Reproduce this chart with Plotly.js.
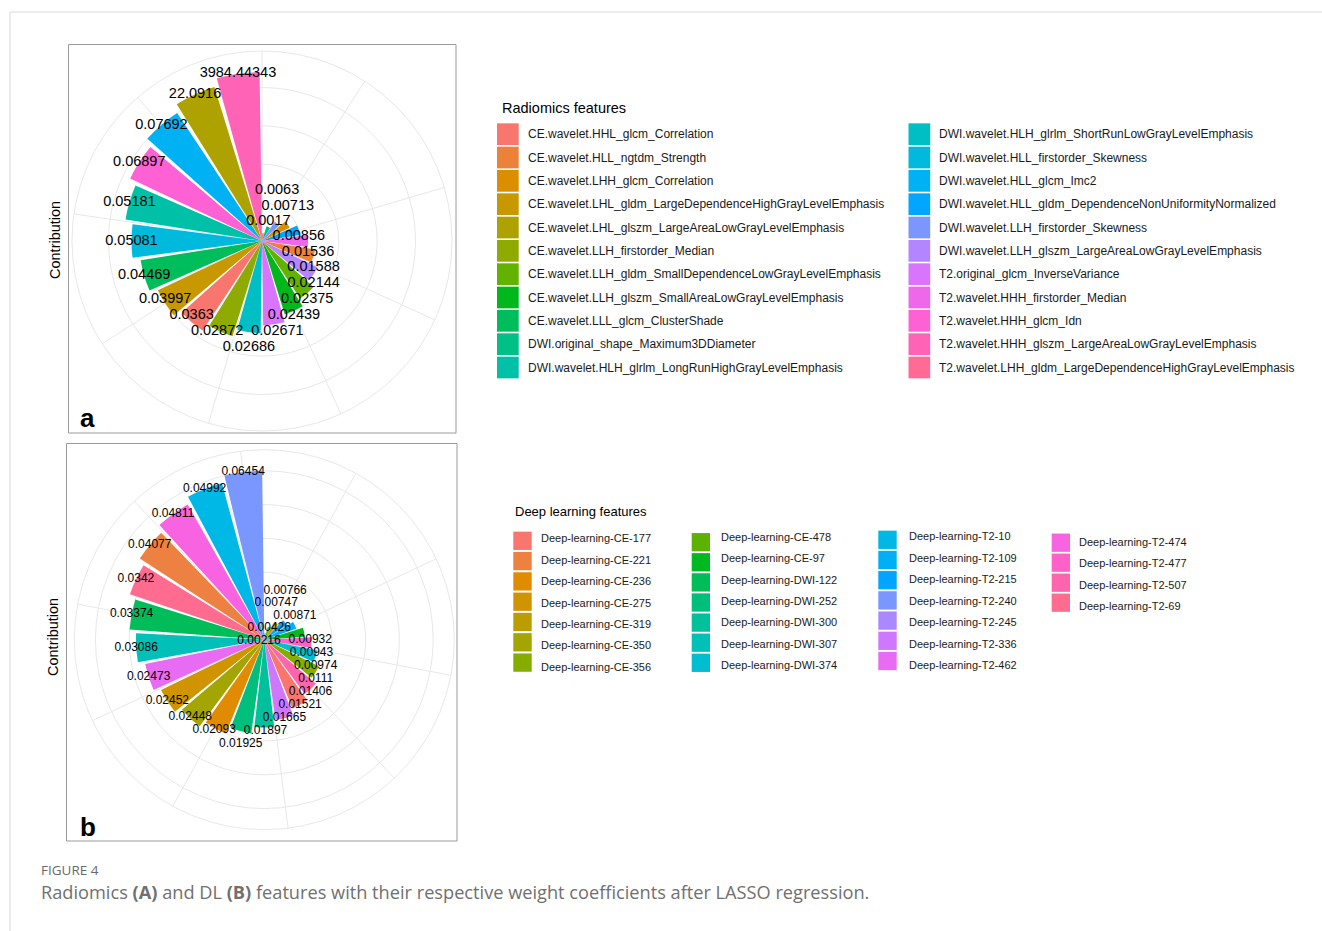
<!DOCTYPE html>
<html>
<head>
<meta charset="utf-8">
<script src="https://cdn.plot.ly/plotly-3.0.1.min.js"></script>
<style>
html,body{margin:0;padding:0;background:#ffffff;}
#chart{width:1322px;height:931px;}
</style>
</head>
<body>
<div id="chart"></div>
<script>
// ---------------- DATA ----------------
// Panel a: radiomics features (legend order)
const radFeatures = [
  "CE.wavelet.HHL_glcm_Correlation",
  "CE.wavelet.HLL_ngtdm_Strength",
  "CE.wavelet.LHH_glcm_Correlation",
  "CE.wavelet.LHL_gldm_LargeDependenceHighGrayLevelEmphasis",
  "CE.wavelet.LHL_glszm_LargeAreaLowGrayLevelEmphasis",
  "CE.wavelet.LLH_firstorder_Median",
  "CE.wavelet.LLH_gldm_SmallDependenceLowGrayLevelEmphasis",
  "CE.wavelet.LLH_glszm_SmallAreaLowGrayLevelEmphasis",
  "CE.wavelet.LLL_glcm_ClusterShade",
  "DWI.original_shape_Maximum3DDiameter",
  "DWI.wavelet.HLH_glrlm_LongRunHighGrayLevelEmphasis",
  "DWI.wavelet.HLH_glrlm_ShortRunLowGrayLevelEmphasis",
  "DWI.wavelet.HLL_firstorder_Skewness",
  "DWI.wavelet.HLL_glcm_Imc2",
  "DWI.wavelet.HLL_gldm_DependenceNonUniformityNormalized",
  "DWI.wavelet.LLH_firstorder_Skewness",
  "DWI.wavelet.LLH_glszm_LargeAreaLowGrayLevelEmphasis",
  "T2.original_glcm_InverseVariance",
  "T2.wavelet.HHH_firstorder_Median",
  "T2.wavelet.HHH_glcm_Idn",
  "T2.wavelet.HHH_glszm_LargeAreaLowGrayLevelEmphasis",
  "T2.wavelet.LHH_gldm_LargeDependenceHighGrayLevelEmphasis"
];
// bars clockwise from 12 o'clock: feature index, bar height (rank), printed value
const radBarFeature = [21, 9, 15, 2, 14, 18, 1, 16, 6, 7, 17, 11, 5, 0, 3, 8, 12, 10, 19, 13, 4, 20];
const radBarHeight  = [1, 2, 3, 4, 5, 6, 7, 8, 9, 10, 11, 12, 13, 14, 15, 16, 17, 18, 19, 20, 21, 22];
const radBarValue   = [null, 0.0017, 0.0063, 0.00713, 0.00856, 0.01536, 0.01588, 0.02144, 0.02375,
                       0.02439, 0.02671, 0.02686, 0.02872, 0.0363, 0.03997, 0.04469, 0.05081,
                       0.05181, 0.06897, 0.07692, 22.0916, 3984.44343];

// Panel b: deep learning features (legend order)
const dlFeatures = [
  "Deep-learning-CE-177", "Deep-learning-CE-221", "Deep-learning-CE-236", "Deep-learning-CE-275",
  "Deep-learning-CE-319", "Deep-learning-CE-350", "Deep-learning-CE-356", "Deep-learning-CE-478",
  "Deep-learning-CE-97", "Deep-learning-DWI-122", "Deep-learning-DWI-252", "Deep-learning-DWI-300",
  "Deep-learning-DWI-307", "Deep-learning-DWI-374", "Deep-learning-T2-10", "Deep-learning-T2-109",
  "Deep-learning-T2-215", "Deep-learning-T2-240", "Deep-learning-T2-245", "Deep-learning-T2-336",
  "Deep-learning-T2-462", "Deep-learning-T2-474", "Deep-learning-T2-477", "Deep-learning-T2-507",
  "Deep-learning-T2-69"
];
const dlBarFeature = [18, 7, 4, 16, 15, 8, 22, 13, 6, 23, 0, 19, 11, 10, 2, 5, 3, 20, 12, 9, 24, 1, 21, 14, 17];
const dlBarHeight  = [1, 2, 3, 4, 5, 6, 7, 8, 9, 10, 11, 12, 13, 14, 15, 16, 17, 18, 19, 20, 21, 22, 23, 24, 25];
const dlBarValue   = [0.00216, 0.00426, 0.00747, 0.00766, 0.00871, 0.00932, 0.00943, 0.00974, 0.0111,
                      0.01406, 0.01521, 0.01665, 0.01897, 0.01925, 0.02093, 0.02448, 0.02452, 0.02473,
                      0.03086, 0.03374, 0.0342, 0.04077, 0.04811, 0.04992, 0.06454];

const radLegendTitle = "Radiomics features";
const dlLegendTitle = "Deep learning features";
const yTitle = "Contribution";
const captionHead = "FIGURE 4";
const captionText = "Radiomics <b>(A)</b> and DL <b>(B)</b> features with their respective weight coefficients after LASSO regression.";

// ---------------- HELPERS ----------------
const W = 1322, H = 931;
const PX = x => x / W;
const PY = y => 1 - y / H;
const FONT = "'Liberation Sans', Arial, Helvetica, sans-serif";

function hclHex(h, c, l) {
  const Xn = 0.95047, Yn = 1.0, Zn = 1.08883;
  const hr = h * Math.PI / 180;
  const u = c * Math.cos(hr), v = c * Math.sin(hr);
  const Yv = Yn * Math.pow((l + 16) / 116, 3);
  const t = Xn + 15 * Yn + 3 * Zn;
  const un = 4 * Xn / t, vn = 9 * Yn / t;
  const up = u / (13 * l) + un, vp = v / (13 * l) + vn;
  const Xv = Yv * 9 * up / (4 * vp);
  const Zv = Yv * (12 - 3 * up - 20 * vp) / (4 * vp);
  let r = 3.2404542 * Xv - 1.5371385 * Yv - 0.4985314 * Zv;
  let g = -0.9692660 * Xv + 1.8760108 * Yv + 0.0415560 * Zv;
  let b = 0.0556434 * Xv - 0.2040259 * Yv + 1.0572252 * Zv;
  const gam = x => { x = Math.max(0, Math.min(1, x)); return x <= 0.0031308 ? 12.92 * x : 1.055 * Math.pow(x, 1 / 2.4) - 0.055; };
  const hx = x => { const s = Math.round(gam(x) * 255).toString(16); return s.length < 2 ? '0' + s : s; };
  return '#' + hx(r) + hx(g) + hx(b);
}
function huePal(n) {
  const out = [];
  for (let i = 0; i < n; i++) out.push(hclHex(15 + 360 * i / n, 100, 65));
  return out;
}

const measureCtx = document.createElement('canvas').getContext('2d');
function textWidth(txt, fs) {
  measureCtx.font = fs + 'px "Liberation Sans", Arial, sans-serif';
  const w = measureCtx.measureText(txt).width;
  return (w && isFinite(w)) ? w : txt.length * 0.556 * fs;
}

// label repulsion in pixel space (labels start centred on their bar tips)
function placeLabels(values, heights, n, pxu, fs, padW, padH) {
  const items = [];
  values.forEach((v, k) => {
    if (v === null) return;
    const txt = String(v);
    const th = (k + 0.5) * 360 / n * Math.PI / 180;
    const r = heights[k] * pxu;
    const ax = r * Math.sin(th), ay = -r * Math.cos(th);
    items.push({ text: txt, ax: ax, ay: ay, x: ax, y: ay, w: textWidth(txt, fs) + padW, h: fs * padH });
  });
  const m = items.length;
  for (let iter = 0; iter < 3000; iter++) {
    const fx = new Array(m).fill(0), fy = new Array(m).fill(0);
    for (let i = 0; i < m; i++) {
      for (let j = i + 1; j < m; j++) {
        const a = items[i], b = items[j];
        const dx = b.x - a.x, dy = b.y - a.y;
        const ox = (a.w + b.w) / 2 - Math.abs(dx);
        const oy = (a.h + b.h) / 2 - Math.abs(dy);
        if (ox > 0 && oy > 0) {
          if (oy <= ox) {
            let s = dy > 0 ? 1 : (dy < 0 ? -1 : (b.ay >= a.ay ? 1 : -1));
            fy[i] -= s * oy / 2; fy[j] += s * oy / 2;
          } else {
            let s = dx > 0 ? 1 : (dx < 0 ? -1 : (b.ax >= a.ax ? 1 : -1));
            fx[i] -= s * ox / 2; fx[j] += s * ox / 2;
          }
        }
      }
    }
    for (let i = 0; i < m; i++) {
      const it = items[i];
      fx[i] += (it.ax - it.x) * 0.01;
      fy[i] += (it.ay - it.y) * 0.01;
      it.x += fx[i] * 0.5;
      it.y += fy[i] * 0.5;
    }
  }
  return items.map(it => {
    const r = Math.sqrt(it.x * it.x + it.y * it.y);
    let th = Math.atan2(it.x, -it.y) * 180 / Math.PI;
    if (th < 0) th += 360;
    return { text: it.text, r: r / pxu, theta: th };
  });
}

// ---------------- PANELS ----------------
const data = [];
const layout = {
  width: W, height: H,
  margin: { l: 0, r: 0, t: 0, b: 0 },
  paper_bgcolor: '#ffffff',
  showlegend: false,
  shapes: [],
  annotations: []
};

function addPanel(opt) {
  const n = opt.heights.length;
  const pal = huePal(opt.features.length);
  const R = 190;
  const rMax = n * 0.45 / 0.4;
  const pxu = R / rMax;
  const thetas = opt.heights.map((_, k) => (k + 0.5) * 360 / n);
  data.push({
    type: 'barpolar', subplot: opt.subplot,
    r: opt.heights, theta: thetas, width: 0.9 * 360 / n,
    marker: { color: opt.barFeature.map(i => pal[i]), line: { width: 0 } },
    hoverinfo: 'skip', showlegend: false
  });
  const labs = placeLabels(opt.values, opt.heights, n, pxu, opt.labelSize, opt.padW, opt.padH);
  data.push({
    type: 'scatterpolar', subplot: opt.subplot, mode: 'text',
    r: labs.map(l => l.r), theta: labs.map(l => l.theta), text: labs.map(l => l.text),
    textposition: 'middle center',
    textfont: { family: FONT, size: opt.labelSize, color: '#000000' },
    cliponaxis: false, hoverinfo: 'skip', showlegend: false
  });
  const spokes = [];
  for (let b = 2.5; b <= n + 0.5; b += 2.5) spokes.push((b - 0.5) * 360 / n);
  const rticks = [];
  for (let v = 5; v <= n; v += 5) rticks.push(v);
  layout[opt.subplot] = {
    domain: { x: [PX(opt.cx - R), PX(opt.cx + R)], y: [PY(opt.cy + R), PY(opt.cy - R)] },
    bgcolor: 'rgba(0,0,0,0)',
    barmode: 'overlay',
    radialaxis: { range: [0, rMax], tickvals: rticks, showticklabels: false, ticks: '',
                  showline: false, gridcolor: '#E8E8E8', gridwidth: 1, layer: 'below traces' },
    angularaxis: { type: 'linear', thetaunit: 'degrees', rotation: 90, direction: 'clockwise',
                   tickvals: spokes, showticklabels: false, ticks: '', gridcolor: '#E8E8E8', gridwidth: 1,
                   showline: true, linecolor: '#E8E8E8', linewidth: 1, layer: 'below traces' }
  };
  layout.shapes.push({ type: 'rect', xref: 'paper', yref: 'paper',
    x0: PX(opt.box[0]), x1: PX(opt.box[2]), y0: PY(opt.box[3]), y1: PY(opt.box[1]),
    line: { color: '#9a9a9a', width: 1 }, fillcolor: 'rgba(0,0,0,0)' });
  layout.annotations.push({ xref: 'paper', yref: 'paper', x: PX(opt.ytitle[0]), y: PY(opt.ytitle[1]),
    text: yTitle, textangle: -90, showarrow: false, xanchor: 'center', yanchor: 'middle',
    font: { family: FONT, size: 14.5, color: '#000000' } });
  layout.annotations.push({ xref: 'paper', yref: 'paper', x: PX(opt.letter[0]), y: PY(opt.letter[1]),
    text: '<b>' + opt.letterText + '</b>', showarrow: false, xanchor: 'left', yanchor: 'middle',
    font: { family: FONT, size: 26, color: '#000000' } });
  layout.annotations.push({ xref: 'paper', yref: 'paper', x: PX(opt.legTitle[0]), y: PY(opt.legTitle[1]),
    text: opt.legendTitle, showarrow: false, xanchor: 'left', yanchor: 'middle',
    font: { family: FONT, size: opt.legTitleSize, color: '#000000' } });
  opt.legCols.forEach(col => {
    for (let i = 0; i < col.count; i++) {
      const idx = col.start + i;
      const sc = col.swY0 + col.swPitch * i;
      layout.shapes.push({ type: 'rect', xref: 'paper', yref: 'paper',
        x0: PX(col.swX[0]), x1: PX(col.swX[1]), y0: PY(sc + opt.swSize / 2), y1: PY(sc - opt.swSize / 2),
        line: { width: 0 }, fillcolor: pal[idx] });
      layout.annotations.push({ xref: 'paper', yref: 'paper', x: PX(col.txtX - 1), y: PY(col.txtY0 + col.txtPitch * i),
        text: opt.features[idx], showarrow: false, xanchor: 'left', yanchor: 'middle',
        font: { family: FONT, size: opt.legTextSize, color: '#1a1a1a' } });
    }
  });
}

addPanel({
  subplot: 'polar', features: radFeatures, barFeature: radBarFeature, heights: radBarHeight, values: radBarValue,
  cx: 262, cy: 241, box: [68.5, 44.5, 456, 433], ytitle: [55, 240], letter: [78, 418], letterText: 'a',
  labelSize: 14.5, padW: 8, padH: 1.12,
  legendTitle: radLegendTitle, legTitle: [500, 108.3], legTitleSize: 14.5, legTextSize: 12, swSize: 21.7,
  legCols: [
    { start: 0, count: 11, swX: [497, 518.7], txtX: 527.3, swY0: 134.2, swPitch: 23.33, txtY0: 134.3, txtPitch: 23.33 },
    { start: 11, count: 11, swX: [908.5, 930.2], txtX: 938.3, swY0: 134.2, swPitch: 23.33, txtY0: 134.3, txtPitch: 23.33 }
  ]
});

addPanel({
  subplot: 'polar2', features: dlFeatures, barFeature: dlBarFeature, heights: dlBarHeight, values: dlBarValue,
  cx: 264.3, cy: 639.7, box: [66.5, 443.5, 457, 841], ytitle: [53, 637], letter: [78, 827], letterText: 'b',
  labelSize: 12, padW: 8, padH: 1.12,
  legendTitle: dlLegendTitle, legTitle: [513, 511], legTitleSize: 13, legTextSize: 11, swSize: 18.3,
  legCols: [
    { start: 0, count: 7, swX: [513.3, 531.7], txtX: 540, swY0: 540.8, swPitch: 20.3, txtY0: 538.3, txtPitch: 21.4 },
    { start: 7, count: 7, swX: [691.7, 710], txtX: 720, swY0: 542.2, swPitch: 20.1, txtY0: 536.7, txtPitch: 21.4 },
    { start: 14, count: 7, swX: [878.3, 896.7], txtX: 907.7, swY0: 539.8, swPitch: 20.2, txtY0: 536, txtPitch: 21.5 },
    { start: 21, count: 4, swX: [1051.7, 1070], txtX: 1077.7, swY0: 542.7, swPitch: 20, txtY0: 541.7, txtPitch: 21.4 }
  ]
});

layout.shapes.push({ type: 'line', xref: 'paper', yref: 'paper', x0: PX(10), x1: PX(1322), y0: PY(12), y1: PY(12),
  line: { color: '#d9d9d9', width: 1 } });
layout.shapes.push({ type: 'line', xref: 'paper', yref: 'paper', x0: PX(10), x1: PX(10), y0: PY(12), y1: PY(931),
  line: { color: '#d9d9d9', width: 1 } });

layout.annotations.push({ xref: 'paper', yref: 'paper', x: PX(39), y: PY(869.5), text: captionHead,
  showarrow: false, xanchor: 'left', yanchor: 'middle',
  font: { family: "'Open Sans', 'Noto Sans', sans-serif", size: 13.5, color: '#6a6a6a' } });
layout.annotations.push({ xref: 'paper', yref: 'paper', x: PX(39), y: PY(892), text: captionText,
  showarrow: false, xanchor: 'left', yanchor: 'middle',
  font: { family: "'Open Sans', 'Noto Sans', sans-serif", size: 18.2, color: '#707070' } });

Plotly.newPlot('chart', data, layout, { staticPlot: true, displayModeBar: false });
</script>
</body>
</html>
